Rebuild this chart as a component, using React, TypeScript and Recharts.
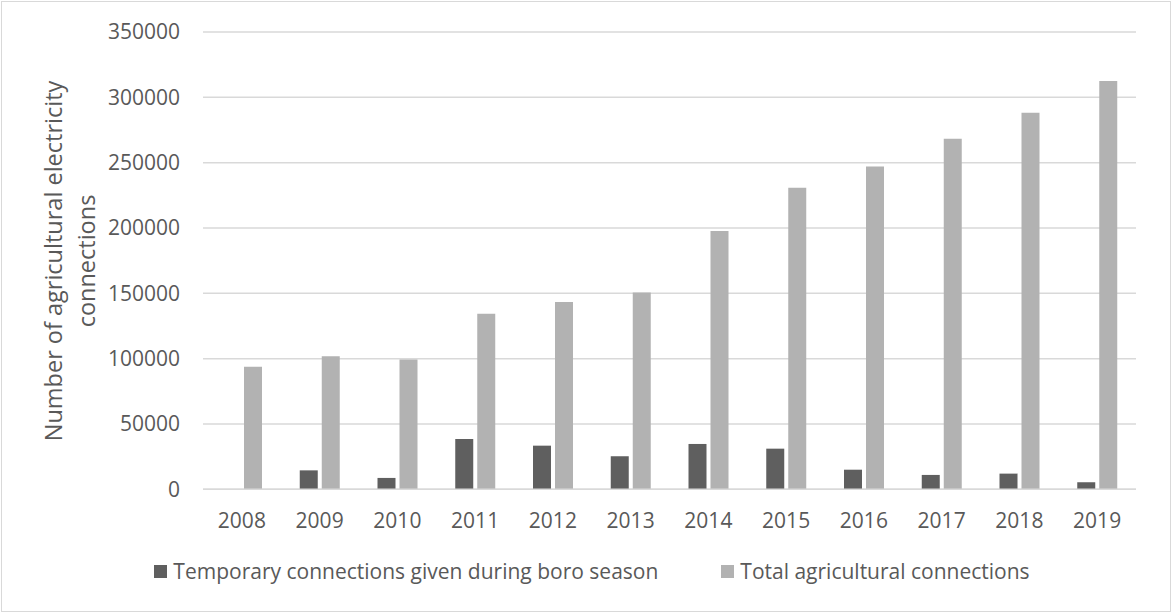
import React from "react";
import { BarChart, Bar, XAxis, YAxis, CartesianGrid, Legend } from "recharts";

// Years on the category axis
const years = ["2008", "2009", "2010", "2011", "2012", "2013", "2014", "2015", "2016", "2017", "2018", "2019"];

// Temporary connections given during the boro season
const temporaryConnections = [0, 14500, 8700, 38500, 33400, 25300, 34700, 31100, 15000, 11000, 12000, 5400];

// Total agricultural connections
const totalConnections = [93700, 101800, 99400, 134300, 143300, 150600, 197600, 230800, 247100, 268300, 288200, 312500];

// Y-axis tick values
const yTicks = [0, 50000, 100000, 150000, 200000, 250000, 300000, 350000];

const seriesNames = ["Temporary connections given during boro season", "Total agricultural connections"];

const DARK = "#5f5f5f";
const LIGHT = "#b2b2b2";
const TEXT = "#595959";
const GRID = "#d9d9d9";
const FONT = "'Open Sans', 'Noto Sans', sans-serif";

const data = years.map((year, i) => ({
  year,
  temporary: temporaryConnections[i],
  total: totalConnections[i],
}));

const YTitle = () => (
  <g>
    <text
      transform="translate(62, 261) rotate(-90)"
      textAnchor="middle"
      fill={TEXT}
      fontSize={23.5}
      fontFamily={FONT}
    >
      Number of agricultural electricity
    </text>
    <text
      transform="translate(95, 261) rotate(-90)"
      textAnchor="middle"
      fill={TEXT}
      fontSize={23.5}
      fontFamily={FONT}
    >
      connections
    </text>
  </g>
);

const LegendContent = () => (
  <div
    style={{
      display: "flex",
      justifyContent: "center",
      alignItems: "center",
      gap: 63,
      fontFamily: FONT,
      fontSize: 21,
      color: TEXT,
      paddingLeft: 12,
    }}
  >
    {[DARK, LIGHT].map((c, i) => (
      <div key={i} style={{ display: "flex", alignItems: "center" }}>
        <span style={{ display: "inline-block", width: 13, height: 13, background: c, marginRight: 6 }} />
        <span>{seriesNames[i]}</span>
      </div>
    ))}
  </div>
);

export default function App() {
  return (
    <div style={{ position: "absolute", left: 0, top: 0, width: 1172, height: 612, background: "#fff" }}>
      <div
        style={{
          position: "absolute",
          left: 1,
          top: 1,
          width: 1168,
          height: 609,
          border: `1px solid ${GRID}`,
        }}
      />
      <BarChart
        width={1172}
        height={612}
        data={data}
        margin={{ top: 32, right: 36, left: 0, bottom: 72.7 }}
        barSize={18}
        barGap={4}
        style={{ position: "absolute", left: 0, top: 0 }}
      >
        <CartesianGrid vertical={false} stroke={GRID} strokeWidth={1.5} />
        <XAxis
          dataKey="year"
          height={50}
          tickLine={false}
          axisLine={{ stroke: GRID, strokeWidth: 1.5 }}
          tickSize={0}
          tickMargin={24}
          tick={{ fill: TEXT, fontSize: 21, fontFamily: FONT }}
          interval={0}
        />
        <YAxis
          width={203}
          domain={[0, 350000]}
          ticks={yTicks}
          tickLine={false}
          axisLine={false}
          tickSize={0}
          tickMargin={23}
          tick={{ fill: TEXT, fontSize: 21, fontFamily: FONT }}
          label={<YTitle />}
        />
        <Legend
          layout="horizontal"
          verticalAlign="middle"
          align="center"
          content={<LegendContent />}
          wrapperStyle={{ top: 557, left: 0, width: 1172 }}
        />
        <Bar dataKey="temporary" name={seriesNames[0]} fill={DARK} isAnimationActive={false} />
        <Bar dataKey="total" name={seriesNames[1]} fill={LIGHT} isAnimationActive={false} />
      </BarChart>
    </div>
  );
}
